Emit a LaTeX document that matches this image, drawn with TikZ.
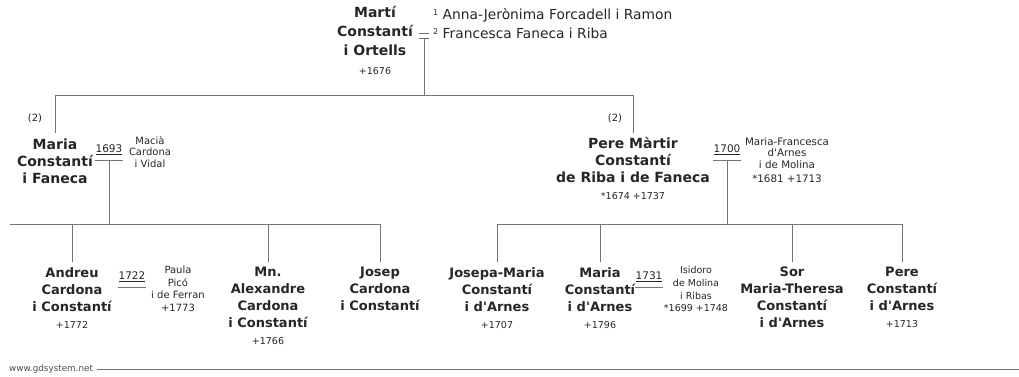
\documentclass[tikz,border=0pt]{standalone}
\usepackage{fontspec}
\setmainfont{DejaVu Sans}[Ligatures=TeXOff]
\newcommand\fsz[2]{\fontsize{#1}{#2}\selectfont}
\newcommand\dt[1]{{\mdseries\fsz{9.5}{11}#1}}
\tikzset{
  pers/.style={anchor=north, align=center, inner sep=0pt, text=black!85, font=\bfseries\fsz{13}{17}},
  upper/.style={pers, font=\bfseries\fsz{14}{17}},
  root/.style={pers, font=\bfseries\fsz{14}{19}},
  spouse/.style={anchor=north, align=center, inner sep=0pt, text=black!85, font=\fsz{10}{11.5}},
  yr/.style={inner sep=0pt, text=black!85, font=\fsz{10.5}{12}},
  tree/.style={draw=black!55, line width=0.9pt}
}
\begin{document}
\begin{tikzpicture}[x=1pt,y=-1pt]
	\useasboundingbox (0,0) rectangle (1019,376);
	% first generation
	\node[root] (marti) at (375,6) {Martí\\Constantí\\i Ortells\\{\mdseries\fsz{9.5}{10}+1676}};
	\node[anchor=west, align=left, inner sep=0pt, text=black!85, font=\fsz{13.8}{19}] (wives) at (433,24)
		{\raisebox{4pt}{\fsz{8}{8}1} Anna-Jerònima Forcadell i Ramon\\\raisebox{4pt}{\fsz{8}{8}2} Francesca Faneca i Riba};
	\draw[tree] (419,33)--(429,33) (419,38.5)--(429,38.5);
	\coordinate (eq) at (424,38.5);
	\coordinate (top) at (424,95);
	\coordinate (r1) at (633,95);
	\draw[tree] (eq)--(top);
	% second generation
	\node[upper] (maria) at (55,139) {Maria\\Constantí\\i Faneca};
	\node[upper] (pere) at (633,137) {Pere Màrtir\\Constantí\\de Riba i de Faneca\\\dt{*1674 +1737}};
	\node[text=black!85, font=\fsz{10}{12}, inner sep=0pt] (m2) at (35,118) {(2)};
	\node[text=black!85, font=\fsz{10}{12}, inner sep=0pt] (p2) at (615,118) {(2)};
	\draw[tree] ([yshift=6pt]maria.north) |- (r1) -- ([yshift=4pt]pere.north);
	\node[spouse] (macia) at (150,136) {Macià\\Cardona\\i Vidal};
	\node[spouse, font=\fsz{10.3}{11.5}] (mfran) at (787,137) {Maria-Francesca\\d'Arnes\\i de Molina\\[3pt]*1681 +1713};
	\node[yr] (y1693) at (109,150) {\underline{1693}};
	\node[yr] (y1700) at (727,150) {\underline{1700}};
	% third generation
	\coordinate (lbus) at (10,224);
	\coordinate (rbus) at (497,224);
	\node[pers] (andreu) at (72,267) {Andreu\\Cardona\\i Constantí\\\dt{+1772}};
	\node[pers] (alexandre) at (268,267) {Mn.\\Alexandre\\Cardona\\i Constantí\\\dt{+1766}};
	\node[pers] (josep) at (380,267) {Josep\\Cardona\\i Constantí};
	\node[pers] (josepa) at (497,267) {Josepa-Maria\\Constantí\\i d'Arnes\\\dt{+1707}};
	\node[pers] (mariab) at (600,267) {Maria\\Constantí\\i d'Arnes\\\dt{+1796}};
	\node[pers] (sor) at (792,267) {Sor\\Maria-Theresa\\Constantí\\i d'Arnes};
	\node[pers] (pereb) at (902,267) {Pere\\Constantí\\i d'Arnes\\\dt{+1713}};
	\node[spouse, font=\fsz{10}{12.5}] (paula) at (178,266) {Paula\\Picó\\i de Ferran\\+1773};
	\node[spouse, font=\fsz{9.5}{12.8}] (isidoro) at (696,266) {Isidoro\\de Molina\\i Ribas\\*1699 +1748};
	\node[yr] (y1722) at (132,277) {\underline{1722}};
	\node[yr] (y1731) at (649,277) {\underline{1731}};
	% marriage bars
	\foreach \y in {y1693,y1700,y1722,y1731}
		\draw[tree] ([yshift=-5.5pt]\y.south west)--([yshift=-5.5pt]\y.south east);
	\draw[tree] ([yshift=-5.5pt]y1693.south)--(y1693.south |- lbus);
	\draw[tree] ([yshift=-5.5pt]y1700.south)--(y1700.south |- rbus);
	\draw[tree] (lbus) -| ([yshift=5pt]josep.north);
	\draw[tree] (rbus) -| ([yshift=5pt]pereb.north);
	\foreach \n in {andreu,alexandre,josepa,mariab,sor}
		\draw[tree] ([yshift=5pt]\n.north)--(\n.north |- lbus);
	% footer
	\node[anchor=west, inner sep=0pt, text=black!70, font=\fsz{8.8}{10}] (site) at (9,369) {www.gdsystem.net};
	\coordinate (fend) at (1019,369);
	\draw[tree, line width=0.6pt] ([xshift=4pt]site.east)--(fend);
\end{tikzpicture}
\end{document}
